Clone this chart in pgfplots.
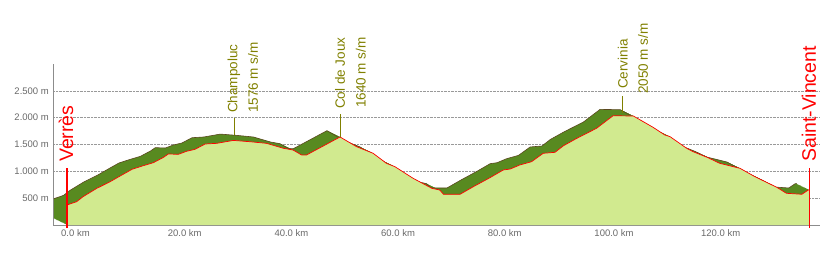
\documentclass[border=0pt]{standalone}
\usepackage{fontspec}
\setmainfont{Liberation Sans}
\usepackage{pgfplots}
\usepackage{pgfplotstable}
\pgfplotsset{compat=1.18}

\definecolor{lightgreen}{RGB}{209,234,143}
\definecolor{darkgreen}{RGB}{88,138,32}
\definecolor{rimbrown}{RGB}{92,72,32}
\definecolor{olivetext}{RGB}{128,128,0}
\definecolor{axisgray}{RGB}{140,140,140}
\definecolor{ticktext}{RGB}{105,105,105}

% elevation profile: km, m (closed to 0 at both ends for filling)
\pgfplotstableread{
x y
0 0
0 373
1.8 434
3.0 527
5.6 684
8.1 807
10.3 932
12.2 1038
14.3 1105
16.2 1161
18.1 1261
19.0 1323
20.9 1317
22.4 1373
24.0 1410
25.9 1509
28.1 1522
31.2 1576
34.3 1552
37.4 1522
40.6 1429
42.4 1397
44.0 1304
44.9 1304
51.2 1640
54.3 1459
57.4 1336
59.9 1149
61.5 1086
64.9 870
68.4 684
69.9 652
70.6 572
73.7 572
76.2 714
79.3 881
81.8 1025
83.1 1043
84.9 1118
87.1 1179
89.3 1336
91.5 1354
93.1 1477
95.6 1615
99.3 1802
102.4 2036
106.2 2031
109.9 1820
112.1 1677
113.1 1645
116.2 1429
117.4 1366
120.2 1254
122.4 1149
126.2 1056
129.0 900
133.1 702
134.9 591
137.8 572
139.0 652
139.3 652
139.3 0
}\profile

\begin{document}
\begin{tikzpicture}
\path[use as bounding box] (0,0) rectangle (829pt,252pt);
\begin{axis}[
  at={(53pt,27pt)}, anchor=south west,
  scale only axis, width=767pt, height=161pt,
  xmin=-2.625, xmax=141.2, ymin=0, ymax=3000,
  axis x line=bottom, axis y line=left,
  axis line style={-, axisgray, line width=0.8pt},
  clip=false,
  ymajorgrids, grid style={densely dotted, gray!80, line width=0.5pt},
  major tick length=0pt,
  xtick={0,20,...,120},
  xticklabels={0.0 km,20.0 km,40.0 km,60.0 km,80.0 km,100.0 km,120.0 km},
  ytick={500,1000,...,2500},
  yticklabels={500 m,1.000 m,1.500 m,2.000 m,2.500 m},
  tick label style={font=\fontsize{9.5}{11}\selectfont, text=ticktext},
  xticklabel style={anchor=north west, inner sep=0pt, xshift=-6pt, yshift=-4pt},
  yticklabel style={anchor=east, inner sep=0pt, xshift=-4pt},
  every axis plot/.append style={mark=none},
]
% extruded shadow band
\pgfplotsinvokeforeach{1,...,14}{
  \addplot[draw=none, fill=darkgreen]
    table[x expr=\thisrow{x}-#1*2.45/14, y expr=\thisrow{y}+#1*118/14] {\profile};
}
\addplot[rimbrown, line width=0.6pt, restrict y to domain=150:5000]
  table[x expr=\thisrow{x}-2.45, y expr=\thisrow{y}+118] {\profile};
% profile
\addplot[draw=none, fill=lightgreen] table {\profile};
\addplot[red, line width=0.7pt, restrict y to domain=1:5000] table {\profile};

% start / end markers
\addplot[red, line width=1.2pt] coordinates {(0,-56) (0,1062)};
\addplot[red, line width=1.2pt] coordinates {(139.3,-56) (139.3,1062)};
\node[rotate=90, anchor=west, inner sep=0pt, text=red, font=\fontsize{19.5}{20}\selectfont] at (axis cs:-0.2,1174) {Verrès};
\node[rotate=90, anchor=west, inner sep=0pt, text=red, font=\fontsize{19.5}{20}\selectfont] at (axis cs:139.1,1174) {Saint-Vincent};

% passes
\addplot[olivetext, line width=0.8pt] coordinates {(31.3,1677) (31.3,1994)};
\addplot[olivetext, line width=0.8pt] coordinates {(51.2,1645) (51.2,2068)};
\addplot[olivetext, line width=0.8pt] coordinates {(104.2,2087) (104.2,2403)};
\tikzset{pass/.style={rotate=90, anchor=west, inner sep=0pt, text=olivetext, font=\fontsize{13.5}{14}\selectfont}}
\node[pass] at (axis cs:31.3,2087) {Champoluc};
\node[pass] at (axis cs:34.9,2087) {1576 m s/m};
\node[pass] at (axis cs:51.2,2161) {Col de Joux};
\node[pass] at (axis cs:55.1,2180) {1640 m s/m};
\node[pass] at (axis cs:104.2,2534) {Cervinia};
\node[pass] at (axis cs:108.0,2441) {2050 m s/m};
\end{axis}
\end{tikzpicture}
\end{document}
